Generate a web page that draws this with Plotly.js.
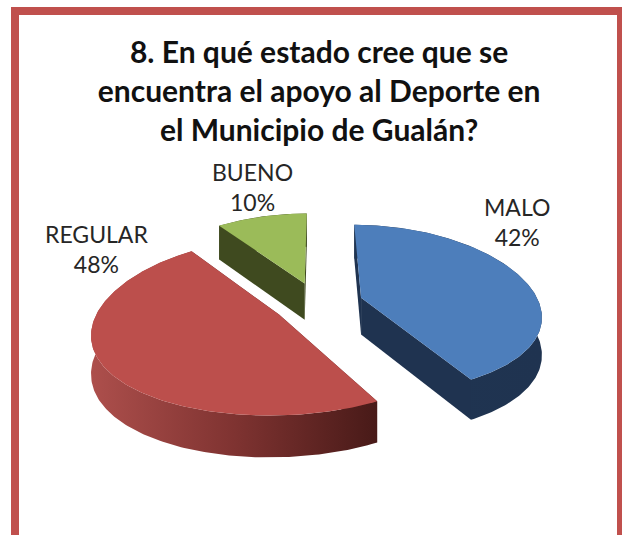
<!DOCTYPE html>
<html>
<head>
<meta charset="utf-8">
<script src="https://cdn.plot.ly/plotly-3.0.1.min.js"></script>
<style>html,body{margin:0;padding:0;background:#fff;overflow:hidden}#chart{width:622px;height:535px}</style>
</head>
<body>
<div id="chart"></div>
<script>
const categories = ['MALO', 'REGULAR', 'BUENO'];
const values = [42, 48, 10];
const topColors = ['#4d7ebb', '#bc4f4c', '#9bbb59'];
const wallColors = ['#1f3350', '#5c2120', '#3f4a1f'];
const wallGradients = [
  [[0, '#1f3552'], [1, '#1f3350']],
  [[0, '#ad4f4c'], [0.5, '#7f3331'], [1, '#481a18']],
  [[0, '#3f4a1f'], [1, '#3f4a1f']]
];
const labelX = [517, 96, 252];
const labelY = [222, 249, 187];
const titleText = '8. En qué estado cree que se<br>encuentra el apoyo al Deporte en<br>el Municipio de Gualán?';

// Projection of the tilted, exploded pie (plot units equal screen pixels)
const view = {cx: 318, cy: 303, radius: 178, tilt: 0.47, persp: 0.19, explode: 45, depth: 37};

function project(u, v, drop) {
  const s = 1 / (1 + view.persp * v / view.radius);
  return [view.cx + s * u, view.cy - Math.pow(s, 0.7) * view.tilt * v + drop * Math.sqrt(s) * view.depth];
}
function arcPoints(a0, a1, ox, oy, drop) {
  const out = [];
  const n = Math.max(2, Math.ceil(Math.abs(a1 - a0) * 60));
  for (let i = 0; i <= n; i++) {
    const a = a0 + (a1 - a0) * i / n;
    out.push(project(ox + view.radius * Math.sin(a), oy + view.radius * Math.cos(a), drop));
  }
  return out;
}
function poly(points, style) {
  return Object.assign({
    type: 'scatter', mode: 'lines', fill: 'toself', hoverinfo: 'skip',
    x: points.map(p => p[0]), y: points.map(p => p[1]),
    line: {width: 0}
  }, style);
}

const total = values.reduce((a, b) => a + b, 0);
const traces = [];
let start = 0;
values.forEach((val, i) => {
  const a0 = start, a1 = start + val / total * 2 * Math.PI;
  start = a1;
  const mid = (a0 + a1) / 2;
  const ox = view.explode * Math.sin(mid), oy = view.explode * Math.cos(mid);
  const apexTop = project(ox, oy, 0), apexBot = project(ox, oy, 1);
  const topArc = arcPoints(a0, a1, ox, oy, 0);
  const botArc = arcPoints(a0, a1, ox, oy, 1);
  const flat = {fillcolor: wallColors[i]};
  // radial cut walls
  traces.push(poly([apexTop, topArc[0], botArc[0], apexBot, apexTop], flat));
  traces.push(poly([apexTop, topArc[topArc.length - 1], botArc[botArc.length - 1], apexBot, apexTop], flat));
  // outer rim wall
  traces.push(poly(topArc.concat(botArc.slice().reverse()).concat([topArc[0]]), {
    fillgradient: {type: 'horizontal', colorscale: wallGradients[i]}
  }));
  // top face
  traces.push(poly([apexTop].concat(topArc).concat([apexTop]), {fillcolor: topColors[i], name: categories[i]}));
});

const annotations = categories.map((c, i) => ({
  x: labelX[i], y: labelY[i], xref: 'x', yref: 'y',
  text: c + '<br>' + Math.round(values[i] / total * 100) + '%',
  showarrow: false, xanchor: 'center', yanchor: 'middle', align: 'center',
  font: {family: 'Lato, Carlito, sans-serif', size: 23, color: '#262626'}
}));

const layout = {
  width: 622, height: 535,
  margin: {l: 0, r: 0, t: 0, b: 0},
  paper_bgcolor: '#ffffff', plot_bgcolor: '#ffffff',
  showlegend: false, hovermode: false,
  title: {
    text: titleText, x: 0.513, xanchor: 'center', y: 0.882, yanchor: 'middle',
    font: {family: 'Lato, Carlito, sans-serif', size: 30, color: '#111111', weight: 700}
  },
  xaxis: {range: [0, 622], visible: false, fixedrange: true},
  yaxis: {range: [535, 0], visible: false, fixedrange: true},
  annotations: annotations,
  shapes: [{
    type: 'path', xref: 'x', yref: 'y', layer: 'below',
    path: 'M 15 545 L 15 11 L 621 11 L 621 545',
    line: {color: '#c0504d', width: 8}
  }]
};

Plotly.newPlot('chart', traces, layout, {displayModeBar: false, staticPlot: true});
</script>
</body>
</html>
